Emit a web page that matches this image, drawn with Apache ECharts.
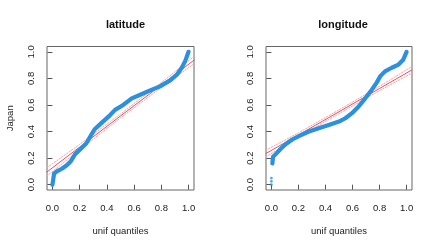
<!DOCTYPE html>
<html><head><meta charset="utf-8">
<script src="https://cdn.jsdelivr.net/npm/echarts@6/dist/echarts.min.js"></script>
<style>html,body{margin:0;padding:0;background:#fff}#c{width:436px;height:249px}</style>
</head><body><div id="c"></div>
<script>
const titles = ['latitude', 'longitude'];
const yLabel = 'Japan';
const xLabel = 'unif quantiles';
const tickValues = [0, 0.2, 0.4, 0.6, 0.8, 1.0];

const latX = [0, 0.012, 0.032, 0.069, 0.105, 0.135, 0.167, 0.203, 0.248, 0.28, 0.31, 0.363, 0.41, 0.46, 0.52, 0.583, 0.645, 0.718, 0.79, 0.865, 0.914, 0.95, 0.975, 1.0];
const latY = [0, 0.083, 0.10, 0.12, 0.146, 0.177, 0.23, 0.265, 0.31, 0.366, 0.417, 0.467, 0.51, 0.563, 0.60, 0.65, 0.677, 0.71, 0.74, 0.785, 0.828, 0.88, 0.93, 1.0];

const lonOutX = [0, 0, 0];
const lonOutY = [0, 0.025, 0.05];
const lonX = [0.007, 0.012, 0.032, 0.069, 0.105, 0.154, 0.203, 0.277, 0.35, 0.424, 0.5, 0.547, 0.596, 0.645, 0.694, 0.743, 0.78, 0.804, 0.84, 0.89, 0.94, 0.975, 1.0];
const lonY = [0.16, 0.21, 0.23, 0.27, 0.305, 0.34, 0.366, 0.40, 0.424, 0.45, 0.475, 0.5, 0.538, 0.588, 0.65, 0.715, 0.77, 0.815, 0.853, 0.88, 0.904, 0.94, 1.0];

const bandX = [-0.04, 0.2, 0.5, 0.8, 1.04];
const latRef = [0.096, 0.283, 0.517, 0.75, 0.937];
const latUpper = [0.128, 0.303, 0.532, 0.768, 0.965];
const latLower = [0.066, 0.263, 0.502, 0.732, 0.91];
const lonRef = [0.235, 0.374, 0.549, 0.724, 0.864];
const lonUpper = [0.26, 0.39, 0.563, 0.74, 0.89];
const lonLower = [0.21, 0.358, 0.535, 0.708, 0.84];

const zip = (a, b) => a.map((v, i) => [v, b[i]]);
const FONT = 'Liberation Sans';
const BLUE = '#2b90e0';
const RED = '#e0535e';
const PINK = '#f4a3ab';

function axisCommon(isX, idx) {
  const o = {
    type: 'value', gridIndex: idx, min: -0.04, max: 1.04,
    axisLine: { show: false },
    axisTick: { show: true, inside: false, length: 5, customValues: tickValues, lineStyle: { color: '#555', width: 1 } },
    axisLabel: { customValues: tickValues, formatter: v => v.toFixed(1), fontFamily: FONT, fontSize: 9.5, color: '#222', margin: isX ? 13 : 11 },
    splitLine: { show: false }
  };
  if (!isX) { o.axisLabel.rotate = 90; }
  return o;
}

const grids = [
  { left: 47, top: 46.5, width: 147, height: 143.5, show: true, borderColor: '#666', borderWidth: 1, backgroundColor: 'transparent' },
  { left: 266, top: 46.5, width: 146, height: 143.5, show: true, borderColor: '#666', borderWidth: 1, backgroundColor: 'transparent' }
];

const xAxes = [0, 1].map(i => Object.assign(axisCommon(true, i), {
  name: xLabel, nameLocation: 'middle', nameGap: 36,
  nameTextStyle: { fontFamily: FONT, fontSize: 9.5, color: '#222' }
}));
const yAxes = [0, 1].map(i => {
  const a = axisCommon(false, i);
  if (i === 0) {
    a.name = yLabel; a.nameLocation = 'middle'; a.nameGap = 32;
    a.nameTextStyle = { fontFamily: FONT, fontSize: 9.5, color: '#222' };
  }
  return a;
});

function lineSeries(idx, data, color, width, type, z) {
  return { type: 'line', xAxisIndex: idx, yAxisIndex: idx, data, symbol: 'none', silent: true, z,
    lineStyle: { color, width, type, cap: 'round', join: 'round' }, animation: false };
}

const series = [
  lineSeries(0, zip(bandX, latUpper), PINK, 1, [1.5, 1.5], 2),
  lineSeries(0, zip(bandX, latLower), PINK, 1, [1.5, 1.5], 2),
  lineSeries(0, zip(bandX, latRef), RED, 1, 'solid', 3),
  lineSeries(0, zip(latX, latY), BLUE, 4.2, 'solid', 4),
  lineSeries(1, zip(bandX, lonUpper), PINK, 1, [1.5, 1.5], 2),
  lineSeries(1, zip(bandX, lonLower), PINK, 1, [1.5, 1.5], 2),
  lineSeries(1, zip(bandX, lonRef), RED, 1, 'solid', 3),
  lineSeries(1, zip(lonX, lonY), BLUE, 4.2, 'solid', 4),
  { type: 'scatter', xAxisIndex: 1, yAxisIndex: 1, data: zip(lonOutX, lonOutY), symbolSize: 2.8,
    itemStyle: { color: BLUE }, z: 4, animation: false }
];

const chart = echarts.init(document.getElementById('c'), null, { renderer: 'canvas' });
chart.setOption({
  animation: false,
  backgroundColor: '#fff',
  title: [
    { text: titles[0], left: 120.5, top: 14, textAlign: 'center', textStyle: { fontFamily: FONT, fontSize: 11, fontWeight: 'bold', color: '#111' } },
    { text: titles[1], left: 338, top: 14, textAlign: 'center', textStyle: { fontFamily: FONT, fontSize: 11, fontWeight: 'bold', color: '#111' } }
  ],
  grid: grids, xAxis: xAxes, yAxis: yAxes, series
});
</script></body></html>
